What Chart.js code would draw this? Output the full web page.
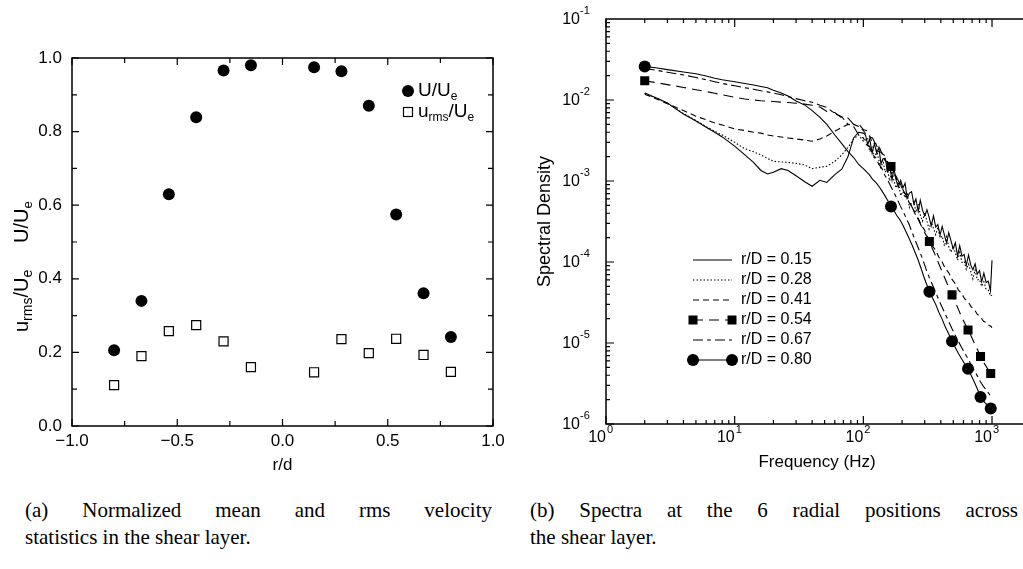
<!DOCTYPE html>
<html>
<head>
<meta charset="utf-8">
<script src="https://cdn.jsdelivr.net/npm/chart.js@4.4.1/dist/chart.umd.min.js"></script>
<style>
  html, body { margin: 0; padding: 0; background: #fff; }
  body { width: 1023px; height: 569px; overflow: hidden; position: relative; }
  #chartA { position: absolute; left: 0; top: 0; }
  #chartB { position: absolute; left: 510px; top: 0; }
  .cap { position: absolute; top: 497px; font: 21px "Liberation Serif", "Times New Roman", serif; line-height: 27px; color: #000; }
  .cap .j { text-align: justify; text-align-last: justify; }
  #capA { left: 25px; width: 467px; }
  #capB { left: 530px; width: 488px; }
</style>
</head>
<body>
<canvas id="chartA" width="510" height="480"></canvas>
<canvas id="chartB" width="540" height="480"></canvas>
<div class="cap" id="capA"><div class="j">(a) Normalized mean and rms velocity</div><div>statistics in the shear layer.</div></div>
<div class="cap" id="capB"><div class="j">(b) Spectra at the 6 radial positions across</div><div>the shear layer.</div></div>
<script>
const FONT = '"Liberation Sans", Arial, sans-serif';

// ---- (a) mean and rms velocity across the shear layer ----
const rOverD  = [-0.80, -0.67, -0.54, -0.41, -0.28, -0.15, 0.15, 0.28, 0.41, 0.54, 0.67, 0.80];
const meanVel = [0.206, 0.340, 0.630, 0.839, 0.966, 0.980, 0.975, 0.964, 0.870, 0.575, 0.361, 0.242];
const rmsVel  = [0.111, 0.190, 0.258, 0.274, 0.230, 0.160, 0.146, 0.236, 0.198, 0.237, 0.193, 0.147];

// ---- (b) spectra ----
const freqLow = [2, 2.5, 3, 4, 5, 6, 7, 8, 10, 12, 14, 16, 18, 20, 23, 26, 30, 35, 40, 46, 52, 60, 68, 76, 84, 92];
const freqHigh = [100, 106, 112, 118, 125, 132, 139, 147, 155, 164, 173, 183, 193, 204, 215, 227, 240, 253, 267, 282,
  298, 312, 326, 345, 365, 386, 408, 432, 460, 489, 518, 548, 580, 614, 651, 688, 728, 770, 814, 860,
  910, 950, 977, 1000];
// denser grid for the two noisy inner spectra
const freqBand = [100, 104, 108, 112, 117, 122, 127, 132, 137, 142, 148, 154, 160, 167, 173, 180, 187, 195, 203, 211,
  219, 228, 237, 247, 256, 267, 277, 288, 300, 312, 324, 337, 351, 365, 379, 395, 410, 427, 444, 461,
  480, 499, 519, 540, 561, 584, 607, 631, 657, 683, 710, 739, 768, 799, 831, 864, 899, 935, 972, 1000];

const sd015 = [0.0122, 0.0105, 0.0092, 0.0067, 0.0055, 0.0046, 0.0040, 0.0035, 0.0027, 0.0021,
  0.0017, 0.00135, 0.00122, 0.00128, 0.00142, 0.00135, 0.00116, 0.00098, 0.00086, 0.00102,
  0.00096, 0.00120, 0.00140, 0.0020, 0.0034, 0.0040,
  3.9e-3, 3.7e-3, 2.8e-3, 3.3e-3, 2.2e-3, 2.9e-3, 2.2e-3, 2.6e-3, 1.63e-3, 1.88e-3,
  1.9e-3, 1.32e-3, 1.52e-3, 1.03e-3, 1.42e-3, 1.02e-3, 8.4e-4, 1.02e-3, 8.2e-4, 9.4e-4,
  6.1e-4, 7.1e-4, 7.4e-4, 5.2e-4, 6.0e-4, 4.2e-4, 5.8e-4, 4.4e-4, 3.7e-4, 4.4e-4,
  3.6e-4, 2.8e-4, 3.7e-4, 2.7e-4, 2.9e-4, 2.16e-4, 2.75e-4, 2.14e-4, 1.71e-4, 2.3e-4,
  1.82e-4, 1.46e-4, 1.73e-4, 1.18e-4, 1.59e-4, 1.18e-4, 1.24e-4, 9.1e-5, 1.22e-4, 9.2e-5,
  8.0e-5, 9.5e-5, 7.1e-5, 7.8e-5, 5.7e-5, 7.3e-5, 5.6e-5, 5.8e-5, 4.4e-5, 1.05e-4];

const sd028 = [0.0120, 0.0104, 0.0091, 0.0068, 0.0056, 0.0047, 0.0041, 0.0037, 0.0030, 0.0025,
  0.0023, 0.0021, 0.0019, 0.00175, 0.00172, 0.00170, 0.00165, 0.00158, 0.00142, 0.00148,
  0.00152, 0.00175, 0.0021, 0.0026, 0.0033, 0.0037,
  3.1e-3, 3.2e-3, 3.4e-3, 2.3e-3, 2.6e-3, 1.86e-3, 2.37e-3, 1.81e-3, 1.39e-3, 1.8e-3,
  1.28e-3, 1.43e-3, 1.0e-3, 1.32e-3, 1.0e-3, 8.2e-4, 9.8e-4, 6.6e-4, 7.4e-4, 6.2e-4,
  7.3e-4, 4.7e-4, 5.4e-4, 5.6e-4, 4.1e-4, 5.2e-4, 3.8e-4, 3.2e-4, 4.05e-4, 3.2e-4,
  2.55e-4, 3.13e-4, 2.6e-4, 2.17e-4, 2.68e-4, 1.97e-4, 2.09e-4, 1.57e-4, 2.05e-4, 1.53e-4,
  1.32e-4, 1.57e-4, 1.3e-4, 1.05e-4, 1.31e-4, 9.9e-5, 1.03e-4, 8.1e-5, 9.4e-5, 7.7e-5,
  6.2e-5, 8.0e-5, 6.0e-5, 6.1e-5, 5.0e-5, 5.7e-5, 4.6e-5, 4.5e-5, 3.8e-5, 3.9e-5];

const sd041 = [0.0118, 0.0102, 0.0090, 0.0074, 0.0063, 0.0057, 0.0052, 0.0049, 0.0044, 0.0042,
  0.0040, 0.0039, 0.0037, 0.0036, 0.0035, 0.0034, 0.0033, 0.0032, 0.0031, 0.0033,
  0.0036, 0.0041, 0.0046, 0.0050, 0.0050, 0.0047,
  4.2e-3, 3.7e-3, 3.6e-3, 2.9e-3, 2.9e-3, 2.3e-3, 2.25e-3, 1.8e-3, 1.7e-3, 1.38e-3,
  1.25e-3, 1.02e-3, 9.4e-4, 7.4e-4, 6.8e-4, 5.4e-4, 4.8e-4, 3.9e-4, 3.5e-4, 2.85e-4,
  2.5e-4, 2.1e-4, 1.9e-4, 1.57e-4, 1.4e-4, 1.15e-4, 1.02e-4, 8.4e-5, 7.4e-5, 6.1e-5,
  5.4e-5, 4.5e-5, 4.1e-5, 3.5e-5, 3.25e-5, 2.8e-5, 2.6e-5, 2.25e-5, 2.1e-5, 1.85e-5,
  1.77e-5, 1.64e-5, 1.62e-5, 1.55e-5];

const sd054 = [0.0173, 0.0163, 0.0155, 0.0143, 0.0134, 0.0127, 0.0121, 0.0116, 0.0108, 0.0103,
  0.0100, 0.0098, 0.0097, 0.0096, 0.0094, 0.0093, 0.0091, 0.0089, 0.0086, 0.0082,
  0.0072, 0.0070, 0.0060, 0.0060, 0.0050, 0.0051,
  4.3e-3, 4.2e-3, 3.5e-3, 3.4e-3, 2.8e-3, 2.7e-3, 2.2e-3, 2.05e-3, 1.7e-3, 1.51e-3,
  1.28e-3, 1.08e-3, 9.1e-4, 7.7e-4, 6.6e-4, 5.6e-4, 4.7e-4, 3.95e-4, 3.35e-4, 2.8e-4,
  2.35e-4, 2.05e-4, 1.79e-4, 1.45e-4, 1.18e-4, 9.5e-5, 7.7e-5, 6.2e-5, 4.9e-5, 3.93e-5,
  3.2e-5, 2.6e-5, 2.1e-5, 1.75e-5, 1.45e-5, 1.22e-5, 1.0e-5, 8.3e-6, 6.8e-6, 5.8e-6,
  5.0e-6, 4.5e-6, 4.2e-6, 4.0e-6];

const sd067 = [0.0245, 0.0232, 0.0220, 0.0204, 0.0190, 0.0178, 0.0168, 0.0160, 0.0150, 0.0142,
  0.0136, 0.0130, 0.0126, 0.0122, 0.0116, 0.0110, 0.0104, 0.0098, 0.0094, 0.0086,
  0.0081, 0.0068, 0.0062, 0.0050, 0.0047, 0.0037,
  3.4e-3, 2.8e-3, 2.65e-3, 2.1e-3, 1.95e-3, 1.6e-3, 1.45e-3, 1.18e-3, 1.02e-3, 8.5e-4,
  7.2e-4, 6.0e-4, 5.0e-4, 4.2e-4, 3.5e-4, 2.9e-4, 2.3e-4, 1.85e-4, 1.5e-4, 1.2e-4,
  9.4e-5, 7.6e-5, 6.4e-5, 5.2e-5, 4.2e-5, 3.4e-5, 2.8e-5, 2.3e-5, 1.85e-5, 1.5e-5,
  1.25e-5, 1.05e-5, 8.8e-6, 7.5e-6, 6.4e-6, 5.4e-6, 4.6e-6, 3.9e-6, 3.3e-6, 2.9e-6,
  2.6e-6, 2.35e-6, 2.2e-6, 2.1e-6];

const sd080 = [0.0260, 0.0248, 0.0237, 0.0222, 0.0211, 0.0198, 0.0186, 0.0178, 0.0168, 0.0160,
  0.0153, 0.0147, 0.0142, 0.0132, 0.0122, 0.0112, 0.0097, 0.0087, 0.0074, 0.0061,
  0.0050, 0.0037, 0.0029, 0.0023, 0.00195, 0.0016,
  1.42e-3, 1.3e-3, 1.18e-3, 1.05e-3, 9.6e-4, 8.6e-4, 7.6e-4, 6.6e-4, 5.7e-4, 4.85e-4,
  4.3e-4, 3.7e-4, 3.3e-4, 2.8e-4, 2.35e-4, 1.95e-4, 1.6e-4, 1.3e-4, 1.05e-4, 8.2e-5,
  6.3e-5, 5.2e-5, 4.3e-5, 3.6e-5, 3.0e-5, 2.4e-5, 2.0e-5, 1.6e-5, 1.3e-5, 1.05e-5,
  8.8e-6, 7.4e-6, 6.4e-6, 5.5e-6, 4.8e-6, 4.0e-6, 3.3e-6, 2.7e-6, 2.15e-6, 1.9e-6,
  1.75e-6, 1.62e-6, 1.55e-6, 1.45e-6];

const radialLabels = ['r/D = 0.15', 'r/D = 0.28', 'r/D = 0.41', 'r/D = 0.54', 'r/D = 0.67', 'r/D = 0.80'];
const markerHz = [2, 164, 326, 489, 651, 814, 977];
const yDecadeExp = [-1, -2, -3, -4, -5, -6];
const xDecadeExp = [0, 1, 2, 3];

const lowHigh = freqLow.concat(freqHigh);
const lowBand = freqLow.concat(freqBand);
const spectra = [
  { label: radialLabels[0], freq: lowBand, values: sd015, dash: [] },
  { label: radialLabels[1], freq: lowBand, values: sd028, dash: [1.5, 2] },
  { label: radialLabels[2], freq: lowHigh, values: sd041, dash: [6, 4] },
  { label: radialLabels[3], freq: lowHigh, values: sd054, dash: [10, 6], marker: 'rect' },
  { label: radialLabels[4], freq: lowHigh, values: sd067, dash: [10, 4, 4, 4] },
  { label: radialLabels[5], freq: lowHigh, values: sd080, dash: [], marker: 'circle' }
];

// draws text with sub/superscript pieces, returns width
function richText(ctx, parts, x, y, size, small) {
  let cx = x;
  parts.forEach(([t, kind]) => {
    ctx.font = (kind ? small : size) + 'px ' + FONT;
    const dy = kind === 'sub' ? size * 0.32 : kind === 'sup' ? -size * 0.42 : 0;
    ctx.fillText(t, cx, y + dy);
    cx += ctx.measureText(t).width;
  });
  return cx - x;
}

const decoA = {
  id: 'decoA',
  afterDraw(chart) {
    const { ctx, chartArea: a, scales: { x, y } } = chart;
    ctx.save();
    ctx.strokeStyle = '#000';
    ctx.fillStyle = '#000';
    ctx.lineWidth = 1.5;
    ctx.strokeRect(a.left, a.top, a.right - a.left, a.bottom - a.top);

    // inward ticks on all four sides
    ctx.lineWidth = 1.2;
    ctx.beginPath();
    for (let k = -4; k <= 4; k++) {
      const px = x.getPixelForValue(k / 4);
      const len = k % 2 === 0 ? 7 : 5;
      ctx.moveTo(px, a.bottom); ctx.lineTo(px, a.bottom - len);
      ctx.moveTo(px, a.top); ctx.lineTo(px, a.top + len);
    }
    for (let k = 0; k <= 10; k++) {
      const py = y.getPixelForValue(k / 10);
      const len = k % 2 === 0 ? 7 : 5;
      ctx.moveTo(a.left, py); ctx.lineTo(a.left + len, py);
      ctx.moveTo(a.right, py); ctx.lineTo(a.right - len, py);
    }
    ctx.stroke();

    ctx.textBaseline = 'middle';
    ctx.textAlign = 'center';
    ctx.font = '17px ' + FONT;
    ctx.fillText('r/d', (a.left + a.right) / 2, 465);

    ctx.textAlign = 'left';
    // legend
    ctx.beginPath();
    ctx.arc(408, 91, 6, 0, Math.PI * 2);
    ctx.fill();
    ctx.strokeRect(403.5, 107.5, 9, 9);
    richText(ctx, [['U/U', ''], ['e', 'sub']], 418, 91, 19, 12);
    richText(ctx, [['u', ''], ['rms', 'sub'], ['/U', ''], ['e', 'sub']], 418, 112, 19, 12);

    // rotated y title
    ctx.translate(22, 332);
    ctx.rotate(-Math.PI / 2);
    richText(ctx, [['u', ''], ['rms', 'sub'], ['/U', ''], ['e', 'sub']], 0, 0, 20, 14);
    richText(ctx, [['U/U', ''], ['e', 'sub']], 89, 0, 20, 13);
    ctx.restore();
  }
};

new Chart(document.getElementById('chartA'), {
  type: 'scatter',
  data: {
    datasets: [
      {
        label: 'U/Ue',
        data: rOverD.map((r, i) => ({ x: r, y: meanVel[i] })),
        pointStyle: 'circle', pointRadius: 6,
        backgroundColor: '#000', borderColor: '#000', borderWidth: 0
      },
      {
        label: 'urms/Ue',
        data: rOverD.map((r, i) => ({ x: r, y: rmsVel[i] })),
        pointStyle: 'rect', pointRadius: 6.4,
        backgroundColor: '#fff', borderColor: '#000', borderWidth: 1.2
      }
    ]
  },
  options: {
    responsive: false,
    animation: false,
    layout: { padding: { top: 58, right: 17, left: 0, bottom: 0 } },
    plugins: { legend: { display: false }, tooltip: { enabled: false } },
    scales: {
      x: {
        type: 'linear', min: -1, max: 1,
        grid: { display: false, drawTicks: false },
        border: { display: false },
        afterFit: s => { s.height = 54; },
        ticks: {
          stepSize: 0.5, padding: 5, color: '#000', font: { family: FONT, size: 17 },
          callback: v => (v < 0 ? '\u2212' : '') + Math.abs(v).toFixed(1)
        }
      },
      y: {
        type: 'linear', min: 0, max: 1,
        grid: { display: false, drawTicks: false },
        border: { display: false },
        afterFit: s => { s.width = 72; },
        ticks: {
          stepSize: 0.2, padding: 10, color: '#000', font: { family: FONT, size: 17 },
          callback: v => v.toFixed(1)
        }
      }
    }
  },
  plugins: [decoA]
});

const decoB = {
  id: 'decoB',
  afterDraw(chart) {
    const { ctx, chartArea: a, scales: { x, y } } = chart;
    ctx.save();
    ctx.strokeStyle = '#000';
    ctx.fillStyle = '#000';
    ctx.lineWidth = 1.5;
    ctx.beginPath();
    ctx.moveTo(a.right + 10, a.top); ctx.lineTo(a.left, a.top);
    ctx.lineTo(a.left, a.bottom); ctx.lineTo(a.right + 10, a.bottom);
    ctx.stroke();

    ctx.lineWidth = 1.2;
    ctx.beginPath();
    for (let d = 1; d < x.max; d *= 10) {
      for (let m = 1; m < 10; m++) {
        if (d * m > x.max) break;
        const px = x.getPixelForValue(d * m);
        const len = m === 1 ? 8 : 4;
        ctx.moveTo(px, a.bottom); ctx.lineTo(px, a.bottom - len);
        ctx.moveTo(px, a.top); ctx.lineTo(px, a.top + len);
      }
    }
    for (let e = -6; e < -1; e++) {
      for (let m = 1; m < 10; m++) {
        const py = y.getPixelForValue(m * Math.pow(10, e));
        const len = m === 1 ? 8 : 4;
        ctx.moveTo(a.left, py); ctx.lineTo(a.left + len, py);
      }
    }
    ctx.stroke();

    // tick labels with superscripts
    ctx.textBaseline = 'middle';
    yDecadeExp.forEach(e => {
      const py = y.getPixelForValue(Math.pow(10, e));
      ctx.font = '16px ' + FONT; ctx.textAlign = 'right';
      ctx.fillText('10', a.left - 26, py + 1);
      ctx.font = '11px ' + FONT; ctx.textAlign = 'left';
      ctx.fillText(String(e), a.left - 26, py - 8);
    });
    xDecadeExp.forEach(e => {
      const px = x.getPixelForValue(Math.pow(10, e));
      ctx.font = '16px ' + FONT; ctx.textAlign = 'right';
      ctx.fillText('10', px, a.bottom + 14);
      ctx.font = '11px ' + FONT; ctx.textAlign = 'left';
      ctx.fillText(String(e), px + 1, a.bottom + 6);
    });

    // axis titles
    ctx.font = '17px ' + FONT; ctx.textAlign = 'center';
    ctx.fillText('Frequency (Hz)', 307, 462);
    ctx.save();
    ctx.translate(35, (a.top + a.bottom) / 2);
    ctx.rotate(-Math.PI / 2);
    ctx.font = '18px ' + FONT;
    ctx.fillText('Spectral Density', 0, 0);
    ctx.restore();

    // legend
    ctx.textAlign = 'left';
    ctx.font = '16px ' + FONT;
    spectra.forEach((s, i) => {
      const ly = 260 + i * 20, x0 = 183, x1 = 222;
      ctx.lineWidth = 1.1;
      ctx.setLineDash(s.dash);
      ctx.beginPath(); ctx.moveTo(x0, ly); ctx.lineTo(x1, ly); ctx.stroke();
      ctx.setLineDash([]);
      if (s.marker === 'rect') {
        ctx.fillRect(x0 - 4.5, ly - 4.5, 9, 9);
        ctx.fillRect(x1 - 4.5, ly - 4.5, 9, 9);
      } else if (s.marker === 'circle') {
        ctx.beginPath(); ctx.arc(x0, ly, 6, 0, Math.PI * 2); ctx.fill();
        ctx.beginPath(); ctx.arc(x1, ly, 6, 0, Math.PI * 2); ctx.fill();
      }
      ctx.fillText(s.label, 231, ly);
    });
    ctx.restore();
  }
};

new Chart(document.getElementById('chartB'), {
  type: 'scatter',
  data: {
    datasets: spectra.map(s => ({
      label: s.label,
      data: s.freq.map((f, i) => ({ x: f, y: s.values[i] })),
      showLine: true,
      borderColor: '#000',
      backgroundColor: '#000',
      borderWidth: 1.1,
      borderDash: s.dash,
      pointStyle: s.marker || 'circle',
      pointRadius: s.freq.map(f => (s.marker && markerHz.includes(f)) ? (s.marker === 'rect' ? 6.4 : 6) : 0),
      pointBorderWidth: 0,
      tension: 0
    }))
  },
  options: {
    responsive: false,
    animation: false,
    layout: { padding: { top: 19, right: 0, left: 0, bottom: 0 } },
    plugins: { legend: { display: false }, tooltip: { enabled: false } },
    scales: {
      x: {
        type: 'logarithmic', min: 1, max: 2517,
        ticks: { display: false },
        grid: { display: false, drawTicks: false },
        border: { display: false },
        afterFit: s => { s.height = 56; }
      },
      y: {
        type: 'logarithmic', min: 1e-6, max: 1e-1,
        ticks: { display: false },
        grid: { display: false, drawTicks: false },
        border: { display: false },
        afterFit: s => { s.width = 96; }
      }
    }
  },
  plugins: [decoB]
});
</script>
</body>
</html>
